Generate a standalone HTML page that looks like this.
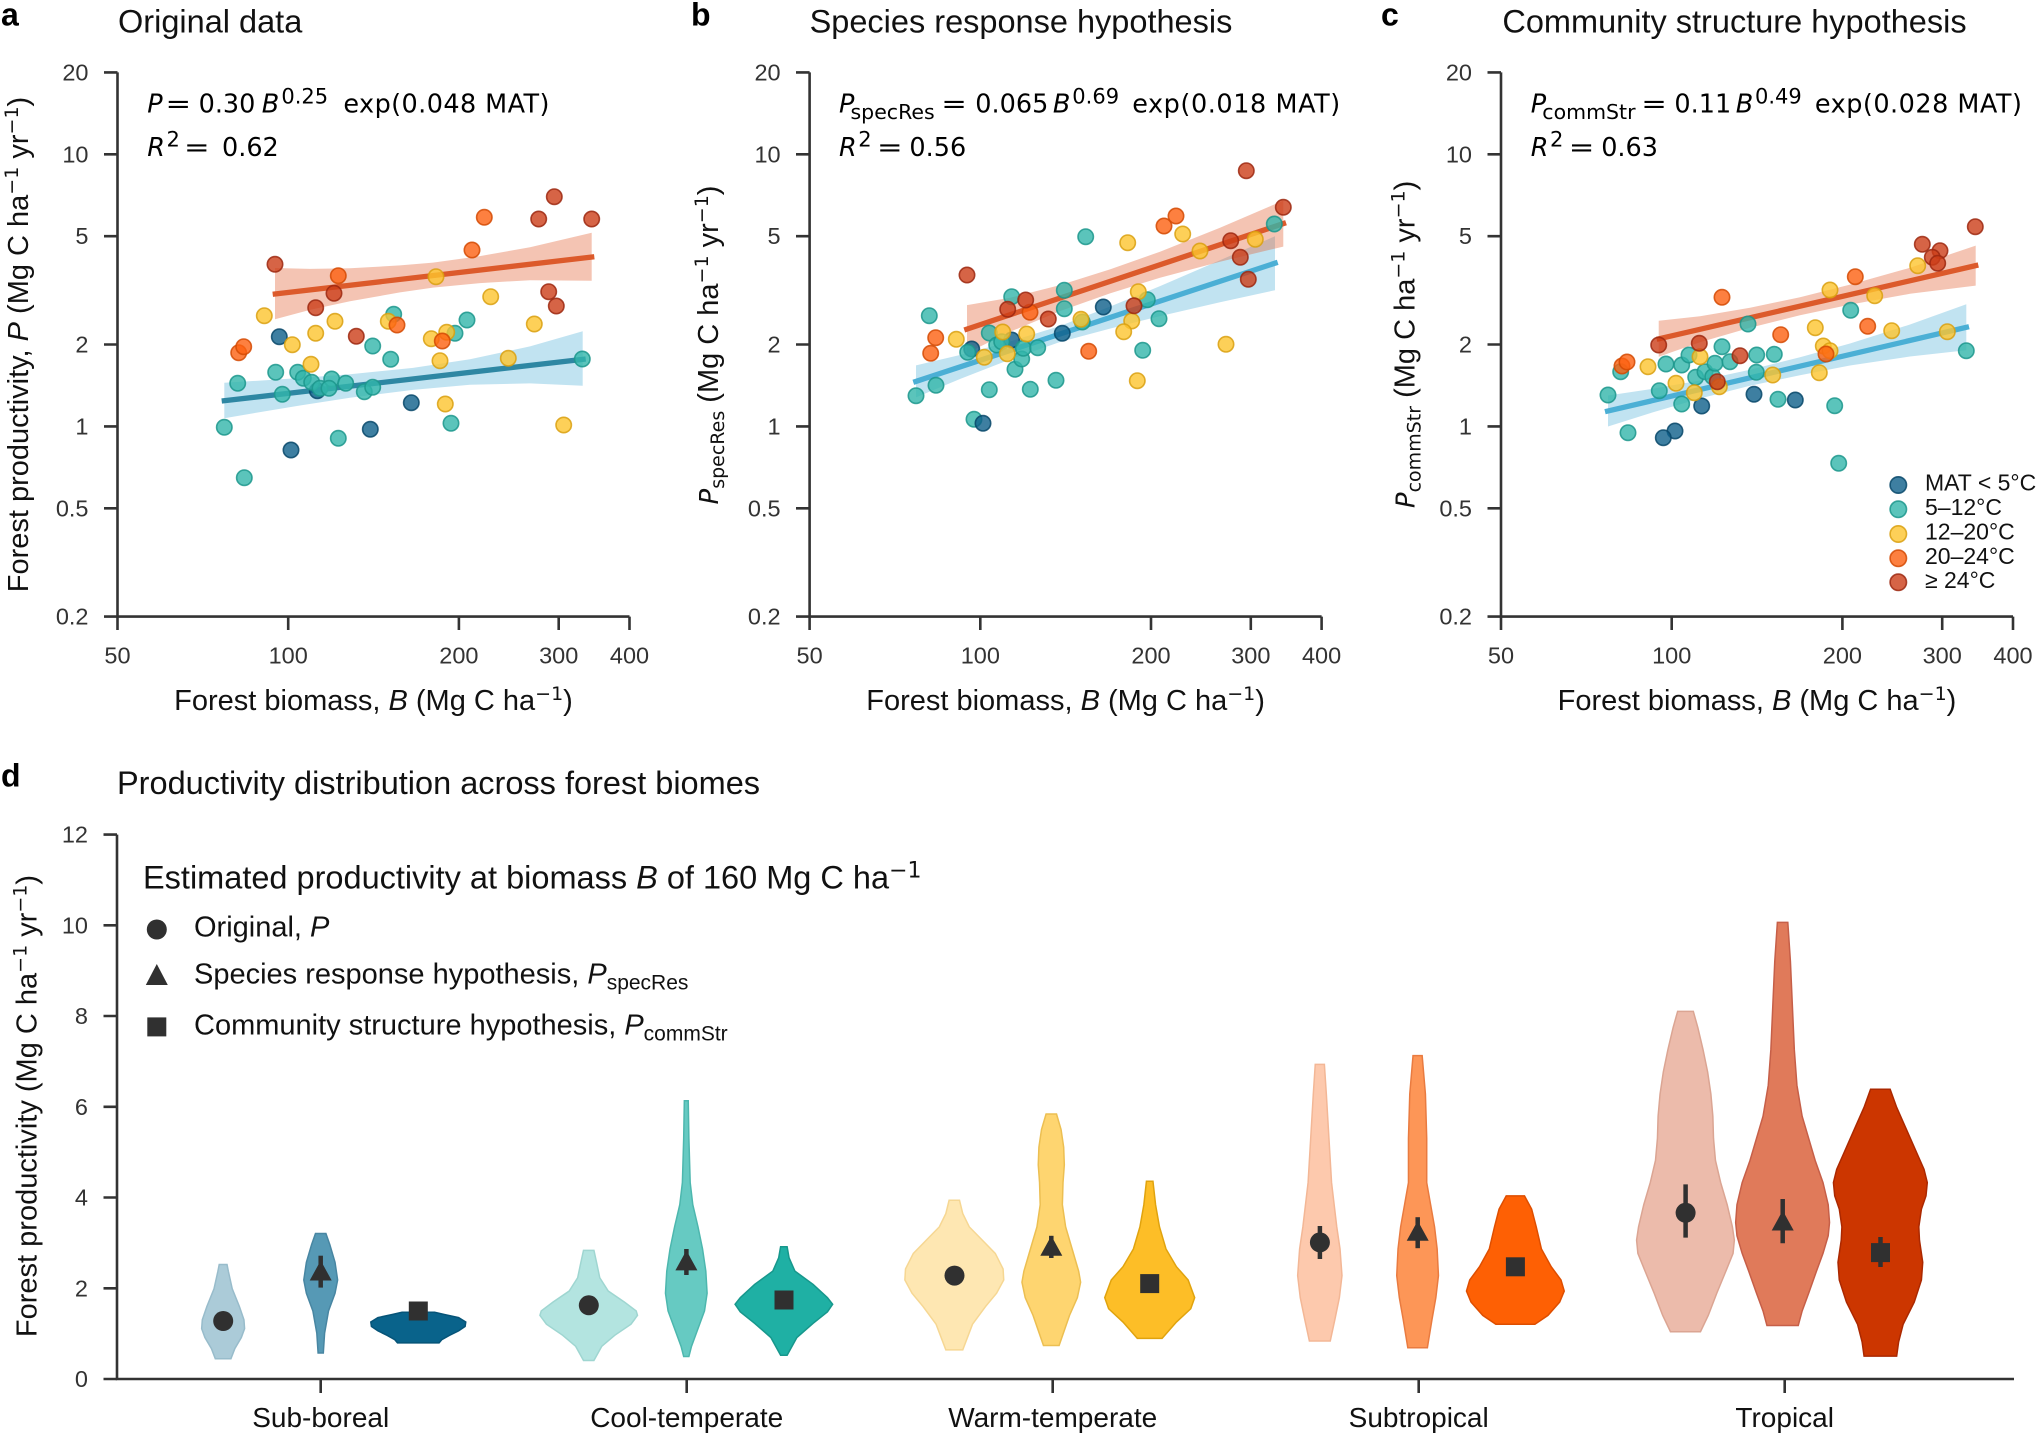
<!DOCTYPE html>
<html><head><meta charset="utf-8">
<style>
html,body{margin:0;padding:0;background:#fff;}
svg{display:block;font-family:"Liberation Sans",Arial,sans-serif;}
.tk{fill:#333;font-size:23.5px;}
.ax{stroke:#333;stroke-width:2.6;fill:none;}
.k0{fill:#0e5f89;stroke:#08486a;}
.k1{fill:#32b5aa;stroke:#1c978c;}
.k2{fill:#fcc42e;stroke:#d9a010;}
.k3{fill:#fc6010;stroke:#d44a04;}
.k4{fill:#cc3d18;stroke:#9c2810;}
.pts circle{fill-opacity:.8;stroke-opacity:.85;stroke-width:1.6;}
.vi path{stroke-width:1.5;}
.mt{font-family:"DejaVu Sans",sans-serif;}
</style></head>
<body>
<svg width="2042" height="1434" viewBox="0 0 2042 1434" xmlns="http://www.w3.org/2000/svg">
<rect width="2042" height="1434" fill="#fff"/>

<!-- Panel letters and titles -->
<g font-weight="bold" font-size="32" fill="#000">
<text x="1" y="25.3">a</text>
<text x="691" y="25.3">b</text>
<text x="1381" y="25.3">c</text>
<text x="1" y="786.5">d</text>
</g>
<g font-size="32.5" fill="#111">
<text x="118" y="32.5">Original data</text>
<text x="809.6" y="32.5">Species response hypothesis</text>
<text x="1502.4" y="32.5">Community structure hypothesis</text>
<text x="117" y="794">Productivity distribution across forest biomes</text>
</g>

<!-- ===== Panel A ===== -->
<polygon fill="#58b4d8" fill-opacity="0.37" points="224.3,382.7 260,380.6 300,378 350,374.2 413,367.9 470,359.3 530,346.4 582.7,331.3 582.7,385.7 530,383.4 470,384.8 413,389.9 350,397.7 300,405.5 260,412.1 224.3,418.3"/>
<polygon fill="#e06030" fill-opacity="0.37" points="275,268 310,268.9 350,268.3 400,265.4 433,262.6 480,256.1 530,247.2 591.7,232.7 591.7,280.7 530,280.2 480,283.1 433,287.6 400,292.4 350,301.3 310,309.9 275,319.3"/>
<line x1="221.7" y1="401" x2="585.7" y2="359" stroke="#2e87a3" stroke-width="5.3"/>
<line x1="272.7" y1="294.3" x2="594.3" y2="256.7" stroke="#dc5a2b" stroke-width="5.3"/>
<g class="pts">
<g class="k0"><circle cx="279.3" cy="336.7" r="7.7"/><circle cx="317.3" cy="390.7" r="7.7"/><circle cx="291" cy="450" r="7.7"/><circle cx="370.3" cy="429.3" r="7.7"/><circle cx="411.3" cy="402.7" r="7.7"/></g>
<g class="k1"><circle cx="224.3" cy="427.3" r="7.7"/><circle cx="237.7" cy="383.3" r="7.7"/><circle cx="244.3" cy="477.7" r="7.7"/><circle cx="275.7" cy="372.3" r="7.7"/><circle cx="282.3" cy="394.3" r="7.7"/><circle cx="297.7" cy="372.3" r="7.7"/><circle cx="303.3" cy="378.3" r="7.7"/><circle cx="311.7" cy="382.3" r="7.7"/><circle cx="320" cy="388.3" r="7.7"/><circle cx="331.7" cy="379" r="7.7"/><circle cx="329" cy="388.3" r="7.7"/><circle cx="345.7" cy="383.3" r="7.7"/><circle cx="364.3" cy="391.7" r="7.7"/><circle cx="372.7" cy="387.3" r="7.7"/><circle cx="372.7" cy="346" r="7.7"/><circle cx="390.7" cy="359.3" r="7.7"/><circle cx="393.7" cy="314.3" r="7.7"/><circle cx="455" cy="333.3" r="7.7"/><circle cx="467" cy="320" r="7.7"/><circle cx="451" cy="423.3" r="7.7"/><circle cx="582.3" cy="359" r="7.7"/><circle cx="338.3" cy="438.3" r="7.7"/></g>
<g class="k2"><circle cx="264.3" cy="315.7" r="7.7"/><circle cx="292.3" cy="344.7" r="7.7"/><circle cx="315.7" cy="333.3" r="7.7"/><circle cx="335" cy="321.3" r="7.7"/><circle cx="311" cy="364.3" r="7.7"/><circle cx="388.3" cy="321.3" r="7.7"/><circle cx="436" cy="276.7" r="7.7"/><circle cx="490.7" cy="296.7" r="7.7"/><circle cx="431.3" cy="338.7" r="7.7"/><circle cx="446.7" cy="332.3" r="7.7"/><circle cx="440" cy="360.7" r="7.7"/><circle cx="445.3" cy="404" r="7.7"/><circle cx="508.3" cy="358.3" r="7.7"/><circle cx="534.3" cy="324" r="7.7"/><circle cx="563.7" cy="425" r="7.7"/></g>
<g class="k3"><circle cx="238.7" cy="352.7" r="7.7"/><circle cx="243.7" cy="346.7" r="7.7"/><circle cx="338.3" cy="275.7" r="7.7"/><circle cx="397" cy="325" r="7.7"/><circle cx="472" cy="250" r="7.7"/><circle cx="484.3" cy="217.3" r="7.7"/><circle cx="442.3" cy="341" r="7.7"/></g>
<g class="k4"><circle cx="275" cy="264.3" r="7.7"/><circle cx="315.7" cy="307.7" r="7.7"/><circle cx="334" cy="293.3" r="7.7"/><circle cx="356.3" cy="336.3" r="7.7"/><circle cx="554.3" cy="196.7" r="7.7"/><circle cx="538.7" cy="219" r="7.7"/><circle cx="591.7" cy="219" r="7.7"/><circle cx="548.7" cy="291.7" r="7.7"/><circle cx="556.3" cy="306" r="7.7"/></g>
</g>

<!-- ===== Panel B ===== -->
<polygon fill="#58b4d8" fill-opacity="0.37" points="916,365.4 960,355 1010,341.5 1060,326 1110,306.6 1160,286.1 1220,260.3 1275,236.2 1275,290.2 1220,302.3 1160,316.1 1110,328.6 1060,342 1010,359.5 960,379 916,397.4"/>
<polygon fill="#e06030" fill-opacity="0.37" points="967,305.1 1010,297.8 1060,285.1 1110,269.4 1160,251.7 1220,227.7 1283.3,200.6 1283.3,246.6 1220,261.7 1160,277.7 1110,293.4 1060,311.1 1010,331.8 967,353.1"/>
<line x1="913.3" y1="382.3" x2="1277.7" y2="262.3" stroke="#4bafd5" stroke-width="5.3"/>
<line x1="964.3" y1="330" x2="1286" y2="222.7" stroke="#dc5a2b" stroke-width="5.3"/>
<g class="pts">
<g class="k0"><circle cx="1062.3" cy="333.3" r="7.7"/><circle cx="1103.3" cy="307" r="7.7"/><circle cx="1011.7" cy="340" r="7.7"/><circle cx="971.7" cy="349" r="7.7"/></g>
<g class="k1"><circle cx="916" cy="395.7" r="7.7"/><circle cx="936" cy="385.3" r="7.7"/><circle cx="929.3" cy="315.7" r="7.7"/><circle cx="967.7" cy="352.3" r="7.7"/><circle cx="989.3" cy="333" r="7.7"/><circle cx="996.7" cy="345" r="7.7"/><circle cx="1011.7" cy="296.7" r="7.7"/><circle cx="1015" cy="369.3" r="7.7"/><circle cx="1021.7" cy="359" r="7.7"/><circle cx="1023.3" cy="348.3" r="7.7"/><circle cx="1037.7" cy="347.7" r="7.7"/><circle cx="989.3" cy="389.7" r="7.7"/><circle cx="1030.3" cy="389.3" r="7.7"/><circle cx="1056" cy="380.3" r="7.7"/><circle cx="1064.3" cy="290.3" r="7.7"/><circle cx="1064.3" cy="308.7" r="7.7"/><circle cx="1082.3" cy="322" r="7.7"/><circle cx="1085.7" cy="236.7" r="7.7"/><circle cx="1142.7" cy="350.3" r="7.7"/><circle cx="1147.3" cy="299.7" r="7.7"/><circle cx="1159" cy="318.7" r="7.7"/><circle cx="1274.3" cy="224" r="7.7"/><circle cx="974" cy="419.3" r="7.7"/><circle cx="1001.7" cy="341.7" r="7.7"/></g>
<g class="k0"><circle cx="983" cy="423.3" r="7.7"/></g>
<g class="k2"><circle cx="956.3" cy="339.3" r="7.7"/><circle cx="984.3" cy="357.3" r="7.7"/><circle cx="1002.7" cy="332" r="7.7"/><circle cx="1007.3" cy="353.7" r="7.7"/><circle cx="1026.7" cy="334" r="7.7"/><circle cx="1081" cy="319.3" r="7.7"/><circle cx="1127.7" cy="242.7" r="7.7"/><circle cx="1138.3" cy="291.7" r="7.7"/><circle cx="1131.7" cy="321" r="7.7"/><circle cx="1123.7" cy="331.7" r="7.7"/><circle cx="1137.3" cy="380.7" r="7.7"/><circle cx="1182.7" cy="234" r="7.7"/><circle cx="1200" cy="251" r="7.7"/><circle cx="1226" cy="344.3" r="7.7"/><circle cx="1255.3" cy="239.3" r="7.7"/></g>
<g class="k3"><circle cx="935.7" cy="337.7" r="7.7"/><circle cx="930.7" cy="353.3" r="7.7"/><circle cx="1030" cy="312.3" r="7.7"/><circle cx="1088.7" cy="351.3" r="7.7"/><circle cx="1164" cy="226" r="7.7"/><circle cx="1176" cy="216" r="7.7"/></g>
<g class="k4"><circle cx="1246.3" cy="170.7" r="7.7"/><circle cx="1283.3" cy="207.3" r="7.7"/><circle cx="1230.7" cy="240.7" r="7.7"/><circle cx="1240.3" cy="257.3" r="7.7"/><circle cx="1248.3" cy="279.3" r="7.7"/><circle cx="967" cy="275" r="7.7"/><circle cx="1025.7" cy="300" r="7.7"/><circle cx="1007.7" cy="309.3" r="7.7"/><circle cx="1048.3" cy="319" r="7.7"/><circle cx="1134" cy="305.7" r="7.7"/></g>
</g>

<!-- ===== Panel C ===== -->
<polygon fill="#58b4d8" fill-opacity="0.37" points="1608,395.5 1650,389.2 1700,380.5 1750,369.8 1800,357.2 1850,343.5 1910,324.5 1966.3,304.3 1966.3,350.3 1910,356.5 1850,365.5 1800,375.2 1750,385.8 1700,398.5 1650,413.2 1608,426.5"/>
<polygon fill="#e06030" fill-opacity="0.37" points="1658.7,320.8 1700,316.3 1750,307.7 1800,297.2 1850,284.6 1910,267.8 1975.7,245.6 1975.7,285.6 1910,293.8 1850,304.6 1800,315.2 1750,327.7 1700,342.3 1658.7,356.8"/>
<line x1="1605" y1="411.7" x2="1969" y2="326.7" stroke="#4bafd5" stroke-width="5.3"/>
<line x1="1656.7" y1="339.3" x2="1978.3" y2="265" stroke="#dc5a2b" stroke-width="5.3"/>
<g class="pts">
<g class="k0"><circle cx="1701.7" cy="406" r="7.7"/><circle cx="1675" cy="431" r="7.7"/><circle cx="1663.3" cy="437.7" r="7.7"/><circle cx="1754" cy="394.3" r="7.7"/><circle cx="1795.3" cy="400" r="7.7"/></g>
<g class="k1"><circle cx="1608" cy="395" r="7.7"/><circle cx="1620.7" cy="371.7" r="7.7"/><circle cx="1628" cy="432.7" r="7.7"/><circle cx="1659.3" cy="390.7" r="7.7"/><circle cx="1666" cy="364" r="7.7"/><circle cx="1681.7" cy="365" r="7.7"/><circle cx="1681.7" cy="404" r="7.7"/><circle cx="1689" cy="355" r="7.7"/><circle cx="1695.7" cy="377.3" r="7.7"/><circle cx="1705" cy="371.7" r="7.7"/><circle cx="1712.7" cy="376.7" r="7.7"/><circle cx="1715" cy="363.3" r="7.7"/><circle cx="1722" cy="346.7" r="7.7"/><circle cx="1730" cy="361.7" r="7.7"/><circle cx="1748" cy="324" r="7.7"/><circle cx="1756.3" cy="372.3" r="7.7"/><circle cx="1756.7" cy="355" r="7.7"/><circle cx="1774.3" cy="354.3" r="7.7"/><circle cx="1778" cy="399.3" r="7.7"/><circle cx="1850.7" cy="310.3" r="7.7"/><circle cx="1834.7" cy="405.7" r="7.7"/><circle cx="1838.7" cy="463.3" r="7.7"/><circle cx="1966.3" cy="350.7" r="7.7"/></g>
<g class="k2"><circle cx="1648" cy="366.7" r="7.7"/><circle cx="1676" cy="383.3" r="7.7"/><circle cx="1694.3" cy="392.7" r="7.7"/><circle cx="1700" cy="356.7" r="7.7"/><circle cx="1719.3" cy="386.7" r="7.7"/><circle cx="1772.7" cy="375" r="7.7"/><circle cx="1815.3" cy="327.7" r="7.7"/><circle cx="1823.3" cy="346" r="7.7"/><circle cx="1830" cy="350.7" r="7.7"/><circle cx="1819.3" cy="372.7" r="7.7"/><circle cx="1830" cy="290" r="7.7"/><circle cx="1874.7" cy="295.7" r="7.7"/><circle cx="1891.7" cy="330.7" r="7.7"/><circle cx="1917.7" cy="265.7" r="7.7"/><circle cx="1947.3" cy="331.7" r="7.7"/></g>
<g class="k3"><circle cx="1622" cy="366" r="7.7"/><circle cx="1627" cy="362" r="7.7"/><circle cx="1722" cy="297.3" r="7.7"/><circle cx="1780.7" cy="334.7" r="7.7"/><circle cx="1855.3" cy="276.7" r="7.7"/><circle cx="1867.7" cy="326.3" r="7.7"/><circle cx="1826" cy="354" r="7.7"/></g>
<g class="k4"><circle cx="1975.3" cy="226.7" r="7.7"/><circle cx="1922.3" cy="244.3" r="7.7"/><circle cx="1940" cy="250.7" r="7.7"/><circle cx="1932.3" cy="257.3" r="7.7"/><circle cx="1937.7" cy="263.3" r="7.7"/><circle cx="1658.7" cy="345" r="7.7"/><circle cx="1699.3" cy="343.3" r="7.7"/><circle cx="1740" cy="355.7" r="7.7"/><circle cx="1717.3" cy="381.7" r="7.7"/></g>
</g>
<!-- legend c -->
<g class="pts">
<circle class="k0" cx="1898.3" cy="485" r="8.2"/>
<circle class="k1" cx="1898.3" cy="509.3" r="8.2"/>
<circle class="k2" cx="1898.3" cy="534" r="8.2"/>
<circle class="k3" cx="1898.3" cy="558.3" r="8.2"/>
<circle class="k4" cx="1898.3" cy="582.3" r="8.2"/>
</g>
<g font-size="23" fill="#111">
<text x="1925" y="490.5">MAT &lt; 5°C</text>
<text x="1925" y="514.8">5–12°C</text>
<text x="1925" y="539.5">12–20°C</text>
<text x="1925" y="563.8">20–24°C</text>
<text x="1925" y="587.8">≥ 24°C</text>
</g>

<!-- ===== Axes panels a-c ===== -->
<g class="ax">
<path d="M117.5,72.4 V616.6 H629.5"/>
<path d="M104,72.4H117.5 M104,154.3H117.5 M104,236.2H117.5 M104,344.5H117.5 M104,426.4H117.5 M104,508.3H117.5 M104,616.6H117.5"/>
<path d="M117.5,616.6V630 M288.2,616.6V630 M458.9,616.6V630 M558.7,616.6V630 M629.5,616.6V630"/>
<path d="M809.6,72.4 V616.6 H1321.6"/>
<path d="M796,72.4H809.6 M796,154.3H809.6 M796,236.2H809.6 M796,344.5H809.6 M796,426.4H809.6 M796,508.3H809.6 M796,616.6H809.6"/>
<path d="M809.6,616.6V630 M980.3,616.6V630 M1151,616.6V630 M1250.8,616.6V630 M1321.6,616.6V630"/>
<path d="M1501,72.4 V616.6 H2013"/>
<path d="M1487.5,72.4H1501 M1487.5,154.3H1501 M1487.5,236.2H1501 M1487.5,344.5H1501 M1487.5,426.4H1501 M1487.5,508.3H1501 M1487.5,616.6H1501"/>
<path d="M1501,616.6V630 M1671.7,616.6V630 M1842.4,616.6V630 M1942.2,616.6V630 M2013,616.6V630"/>
</g>
<g class="tk" text-anchor="end">
<text x="88.5" y="80.4">20</text><text x="88.5" y="162.3">10</text><text x="88.5" y="244.2">5</text><text x="88.5" y="352.5">2</text><text x="88.5" y="434.4">1</text><text x="88.5" y="516.3">0.5</text><text x="88.5" y="624.6">0.2</text>
<text x="780.6" y="80.4">20</text><text x="780.6" y="162.3">10</text><text x="780.6" y="244.2">5</text><text x="780.6" y="352.5">2</text><text x="780.6" y="434.4">1</text><text x="780.6" y="516.3">0.5</text><text x="780.6" y="624.6">0.2</text>
<text x="1472" y="80.4">20</text><text x="1472" y="162.3">10</text><text x="1472" y="244.2">5</text><text x="1472" y="352.5">2</text><text x="1472" y="434.4">1</text><text x="1472" y="516.3">0.5</text><text x="1472" y="624.6">0.2</text>
</g>
<g class="tk" text-anchor="middle">
<text x="117.5" y="663.5">50</text><text x="288.2" y="663.5">100</text><text x="458.9" y="663.5">200</text><text x="558.7" y="663.5">300</text><text x="629.5" y="663.5">400</text>
<text x="809.6" y="663.5">50</text><text x="980.3" y="663.5">100</text><text x="1151" y="663.5">200</text><text x="1250.8" y="663.5">300</text><text x="1321.6" y="663.5">400</text>
<text x="1501" y="663.5">50</text><text x="1671.7" y="663.5">100</text><text x="1842.4" y="663.5">200</text><text x="1942.2" y="663.5">300</text><text x="2013" y="663.5">400</text>
</g>

<!-- axis labels -->
<g font-size="29" fill="#111" text-anchor="middle">
<text x="373.5" y="710">Forest biomass, <tspan font-style="italic">B</tspan> (Mg C ha<tspan dy="-10" font-size="19" class="mt">−1</tspan><tspan dy="10">)</tspan></text>
<text x="1065.6" y="710">Forest biomass, <tspan font-style="italic">B</tspan> (Mg C ha<tspan dy="-10" font-size="19" class="mt">−1</tspan><tspan dy="10">)</tspan></text>
<text x="1757" y="710">Forest biomass, <tspan font-style="italic">B</tspan> (Mg C ha<tspan dy="-10" font-size="19" class="mt">−1</tspan><tspan dy="10">)</tspan></text>
<text transform="translate(28,344.5) rotate(-90)">Forest productivity, <tspan font-style="italic">P</tspan> (Mg C ha<tspan dy="-10" font-size="19" class="mt">−1</tspan><tspan dy="10"> yr</tspan><tspan dy="-10" font-size="19" class="mt">−1</tspan><tspan dy="10">)</tspan></text>
<text transform="translate(718,345) rotate(-90)"><tspan font-style="italic" class="mt" font-size="26">P</tspan><tspan dy="6" font-size="19" class="mt">specRes</tspan><tspan dy="-6"> (Mg C ha</tspan><tspan dy="-10" font-size="19" class="mt">−1</tspan><tspan dy="10"> yr</tspan><tspan dy="-10" font-size="19" class="mt">−1</tspan><tspan dy="10">)</tspan></text>
<text transform="translate(1414.5,344.4) rotate(-90)"><tspan font-style="italic" class="mt" font-size="26">P</tspan><tspan dy="6" font-size="19" class="mt">commStr</tspan><tspan dy="-6"> (Mg C ha</tspan><tspan dy="-10" font-size="19" class="mt">−1</tspan><tspan dy="10"> yr</tspan><tspan dy="-10" font-size="19" class="mt">−1</tspan><tspan dy="10">)</tspan></text>
</g>

<!-- formulas (mathtext-like, DejaVu) -->
<g class="mt" font-size="25.5" fill="#000">
<text x="147.3" y="112.5" font-style="italic">P</text>
<text transform="translate(165.5,112.5) scale(1.2,1)">=</text>
<text x="198.6" y="112.5">0.30</text>
<text x="261.7" y="112.5" font-style="italic">B</text>
<text x="281.4" y="103.5" font-size="21">0.25</text>
<text x="343.4" y="112.5" textLength="206" lengthAdjust="spacing">exp(0.048 MAT)</text>
<text x="147.3" y="156" font-style="italic">R</text>
<text x="166.5" y="146.5" font-size="21">2</text>
<text transform="translate(184,156) scale(1.2,1)">=</text>
<text x="222" y="156">0.62</text>

<text x="839" y="112.5" font-style="italic">P</text>
<text x="850.5" y="119" font-size="20.5">specRes</text>
<text transform="translate(941.3,112.5) scale(1.2,1)">=</text>
<text x="975.3" y="112.5">0.065</text>
<text x="1052.9" y="112.5" font-style="italic">B</text>
<text x="1072.3" y="103.5" font-size="21">0.69</text>
<text x="1132.2" y="112.5" textLength="208" lengthAdjust="spacing">exp(0.018 MAT)</text>
<text x="839" y="156" font-style="italic">R</text>
<text x="858.2" y="146.5" font-size="21">2</text>
<text transform="translate(877,156) scale(1.2,1)">=</text>
<text x="909.4" y="156">0.56</text>

<text x="1530.8" y="112.5" font-style="italic">P</text>
<text x="1542.3" y="119" font-size="20.5">commStr</text>
<text transform="translate(1641.3,112.5) scale(1.2,1)">=</text>
<text x="1674.4" y="112.5">0.11</text>
<text x="1735.8" y="112.5" font-style="italic">B</text>
<text x="1755" y="103.5" font-size="21">0.49</text>
<text x="1814.9" y="112.5" textLength="207" lengthAdjust="spacing">exp(0.028 MAT)</text>
<text x="1530.8" y="156" font-style="italic">R</text>
<text x="1550" y="146.5" font-size="21">2</text>
<text transform="translate(1568.8,156) scale(1.2,1)">=</text>
<text x="1601.2" y="156">0.63</text>
</g>

<!-- ===== Panel D ===== -->
<g class="vi" transform="translate(0,740) scale(0.650510,0.442602)">
<path fill="#abcbd8" stroke="#98bccb" vector-effect="non-scaling-stroke" d="M349,1185 L351,1200 L357,1240 L368,1280 L375,1310 L376,1330 L371,1350 L361,1375 L355,1398 L331,1398 L325,1375 L315,1350 L310,1330 L311,1310 L318,1280 L329,1240 L335,1200 L337,1185 Z"/>
<path fill="#5699b5" stroke="#4886a2" vector-effect="non-scaling-stroke" d="M501,1115 L507,1140 L515,1180 L519,1220 L515,1250 L505,1290 L499,1340 L497,1385 L489,1385 L487,1340 L481,1290 L471,1250 L467,1220 L471,1180 L479,1140 L485,1115 Z"/>
<path fill="#09638b" stroke="#065478" vector-effect="non-scaling-stroke" d="M668,1293 L683,1298 L705,1305 L716,1315 L715,1325 L705,1335 L691,1345 L679,1355 L675,1362 L611,1362 L607,1355 L595,1345 L581,1335 L571,1325 L570,1315 L581,1305 L603,1298 L618,1293 Z"/>
<path fill="#b3e4e0" stroke="#9fd6d1" vector-effect="non-scaling-stroke" d="M913,1153 L917,1180 L922,1215 L935,1245 L960,1270 L978,1290 L980,1300 L970,1320 L945,1345 L925,1370 L913,1402 L897,1402 L885,1370 L865,1345 L840,1320 L830,1300 L832,1290 L850,1270 L875,1245 L888,1215 L893,1180 L897,1153 Z"/>
<path fill="#66cac2" stroke="#4db7ae" vector-effect="non-scaling-stroke" d="M1058,815 L1059,900 L1061,1000 L1065,1050 L1073,1100 L1080,1150 L1085,1200 L1087,1250 L1083,1290 L1073,1330 L1063,1370 L1059,1393 L1051,1393 L1047,1370 L1037,1330 L1027,1290 L1023,1250 L1025,1200 L1030,1150 L1037,1100 L1045,1050 L1049,1000 L1051,900 L1052,815 Z"/>
<path fill="#1fb0a4" stroke="#17978c" vector-effect="non-scaling-stroke" d="M1210,1145 L1213,1170 L1222,1200 L1250,1230 L1272,1260 L1280,1275 L1272,1292 L1250,1318 L1225,1350 L1210,1390 L1200,1390 L1185,1350 L1160,1318 L1138,1292 L1130,1275 L1138,1260 L1160,1230 L1188,1200 L1197,1170 L1200,1145 Z"/>
<path fill="#fee7b2" stroke="#f6d793" vector-effect="non-scaling-stroke" d="M1475,1040 L1480,1070 L1490,1100 L1510,1130 L1530,1160 L1542,1195 L1543,1220 L1532,1250 L1515,1280 L1495,1320 L1480,1378 L1454,1378 L1439,1320 L1419,1280 L1402,1250 L1391,1220 L1392,1195 L1404,1160 L1424,1130 L1444,1100 L1454,1070 L1459,1040 Z"/>
</g>
<g class="vi" transform="translate(1020,740) scale(0.651786,0.442602)">
<path fill="#fed570" stroke="#ecbf52" vector-effect="non-scaling-stroke" d="M56,845 L63,880 L67,920 L68,960 L66,1000 L65,1050 L70,1100 L80,1150 L90,1200 L93,1225 L88,1260 L76,1300 L60,1368 L36,1368 L20,1300 L8,1260 L3,1225 L6,1200 L16,1150 L26,1100 L31,1050 L30,1000 L28,960 L29,920 L33,880 L40,845 Z"/>
<path fill="#fdbe27" stroke="#e0a30e" vector-effect="non-scaling-stroke" d="M204,997 L208,1050 L214,1100 L224,1150 L240,1190 L258,1220 L268,1260 L262,1285 L240,1315 L218,1352 L180,1352 L158,1315 L136,1285 L130,1260 L140,1220 L158,1190 L174,1150 L184,1100 L190,1050 L194,997 Z"/>
<path fill="#fdc9ad" stroke="#f3b796" vector-effect="non-scaling-stroke" d="M467,733 L470,800 L474,900 L478,1000 L486,1100 L491,1150 L494,1210 L490,1260 L483,1310 L476,1358 L444,1358 L437,1310 L430,1260 L426,1210 L429,1150 L434,1100 L442,1000 L446,900 L450,800 L453,733 Z"/>
<path fill="#fd9657" stroke="#e97b40" vector-effect="non-scaling-stroke" d="M617,713 L622,800 L624,900 L624,1000 L630,1050 L636,1100 L640,1150 L642,1210 L638,1260 L632,1310 L625,1373 L595,1373 L588,1310 L582,1260 L578,1210 L580,1150 L584,1100 L590,1050 L596,1000 L596,900 L598,800 L603,713 Z"/>
<path fill="#fe6004" stroke="#de4e00" vector-effect="non-scaling-stroke" d="M774,1030 L785,1060 L792,1100 L800,1150 L815,1190 L830,1220 L835,1245 L828,1270 L810,1300 L790,1320 L730,1320 L710,1300 L692,1270 L685,1245 L690,1220 L705,1190 L720,1150 L728,1100 L735,1060 L746,1030 Z"/>
<path fill="#ecbbab" stroke="#dba593" vector-effect="non-scaling-stroke" d="M1033,613 L1040,650 L1048,700 L1055,750 L1060,800 L1063,850 L1064,900 L1067,950 L1075,1000 L1085,1050 L1093,1100 L1096,1130 L1094,1160 L1083,1200 L1069,1250 L1056,1300 L1044,1337 L998,1337 L986,1300 L973,1250 L959,1200 L948,1160 L946,1130 L949,1100 L957,1050 L967,1000 L975,950 L978,900 L979,850 L982,800 L987,750 L994,700 L1002,650 L1009,613 Z"/>
<path fill="#e07a5a" stroke="#c65f48" vector-effect="non-scaling-stroke" d="M1178,412 L1182,500 L1185,600 L1188,700 L1192,780 L1200,850 L1210,900 L1220,950 L1232,1000 L1240,1050 L1242,1090 L1240,1120 L1232,1160 L1222,1200 L1210,1250 L1200,1290 L1194,1323 L1146,1323 L1140,1290 L1130,1250 L1118,1200 L1108,1160 L1100,1120 L1098,1090 L1100,1050 L1108,1000 L1120,950 L1130,900 L1140,850 L1148,780 L1152,700 L1155,600 L1158,500 L1162,412 Z"/>
<path fill="#cc3600" stroke="#ab2800" vector-effect="non-scaling-stroke" d="M1335,789 L1345,830 L1360,880 L1375,930 L1387,970 L1392,1000 L1390,1030 L1383,1060 L1379,1100 L1380,1130 L1385,1180 L1383,1220 L1372,1270 L1355,1320 L1348,1360 L1345,1392 L1295,1392 L1292,1360 L1285,1320 L1268,1270 L1257,1220 L1255,1180 L1260,1130 L1261,1100 L1257,1060 L1250,1030 L1248,1000 L1253,970 L1265,930 L1280,880 L1295,830 L1305,789 Z"/>
</g>

<!-- error bars -->
<g stroke="#303030" stroke-width="4.5">
<line x1="320.7" y1="1255.7" x2="320.7" y2="1287.6"/>
<line x1="686.4" y1="1249" x2="686.4" y2="1275"/>
<line x1="1051.3" y1="1235.8" x2="1051.3" y2="1258"/>
<line x1="1319.9" y1="1226" x2="1319.9" y2="1259"/>
<line x1="1417.7" y1="1217.2" x2="1417.7" y2="1248.2"/>
<line x1="1685.6" y1="1184.4" x2="1685.6" y2="1237.6"/>
<line x1="1782.7" y1="1199" x2="1782.7" y2="1243.3"/>
<line x1="1880.5" y1="1237" x2="1880.5" y2="1267"/>
</g>
<!-- markers -->
<g fill="#303030">
<circle cx="223.2" cy="1321" r="10"/><circle cx="588.8" cy="1305.3" r="10"/><circle cx="954.5" cy="1275.6" r="10"/><circle cx="1319.9" cy="1242.4" r="10"/><circle cx="1685.6" cy="1212.8" r="10"/>
<polygon points="320.7,1260.5 309.7,1280.5 331.7,1280.5"/>
<polygon points="686.4,1250.4 675.4,1270.4 697.4,1270.4"/>
<polygon points="1051.3,1235.7 1040.3,1255.7 1062.3,1255.7"/>
<polygon points="1417.7,1220.7 1406.7,1240.7 1428.7,1240.7"/>
<polygon points="1782.7,1210.5 1771.7,1230.5 1793.7,1230.5"/>
<rect x="408.8" y="1301.5" width="19" height="19"/>
<rect x="774.5" y="1290.5" width="19" height="19"/>
<rect x="1140.2" y="1274.1" width="19" height="19"/>
<rect x="1505.9" y="1257.3" width="19" height="19"/>
<rect x="1871" y="1243.1" width="19" height="19"/>
<!-- legend markers -->
<circle cx="156.8" cy="929.5" r="10"/>
<polygon points="156.8,964 145.8,985 167.8,985"/>
<rect x="147.3" y="1017.4" width="19" height="19"/>
</g>

<!-- axes d -->
<g class="ax">
<path d="M117,834.6 V1379 H2014"/>
<path d="M103.5,834.6H117 M103.5,925.3H117 M103.5,1016H117 M103.5,1106.8H117 M103.5,1197.5H117 M103.5,1288.3H117 M103.5,1379H117"/>
<path d="M320.7,1379V1393 M686.7,1379V1393 M1052.7,1379V1393 M1418.7,1379V1393 M1784.7,1379V1393"/>
</g>
<g class="tk" text-anchor="end">
<text x="88" y="842.6">12</text><text x="88" y="933.3">10</text><text x="88" y="1024">8</text><text x="88" y="1114.8">6</text><text x="88" y="1205.5">4</text><text x="88" y="1296.3">2</text><text x="88" y="1387">0</text>
</g>
<g font-size="28" fill="#111" text-anchor="middle">
<text x="320.7" y="1427">Sub-boreal</text>
<text x="686.7" y="1427">Cool-temperate</text>
<text x="1052.7" y="1427">Warm-temperate</text>
<text x="1418.7" y="1427">Subtropical</text>
<text x="1784.7" y="1427">Tropical</text>
<text transform="translate(36.5,1106) rotate(-90)" font-size="29">Forest productivity (Mg C ha<tspan dy="-10" font-size="19" class="mt">−1</tspan><tspan dy="10"> yr</tspan><tspan dy="-10" font-size="19" class="mt">−1</tspan><tspan dy="10">)</tspan></text>
</g>
<g fill="#111">
<text x="143" y="888.3" font-size="32.5">Estimated productivity at biomass <tspan font-style="italic">B</tspan> of 160 Mg C ha<tspan dy="-11" font-size="22" class="mt">−1</tspan></text>
<text x="194" y="936.5" font-size="29">Original, <tspan font-style="italic">P</tspan></text>
<text x="194" y="983.5" font-size="29">Species response hypothesis, <tspan font-style="italic">P</tspan><tspan dy="6" font-size="21">specRes</tspan></text>
<text x="194" y="1034.4" font-size="29">Community structure hypothesis, <tspan font-style="italic">P</tspan><tspan dy="6" font-size="21">commStr</tspan></text>
</g>
</svg>
</body></html>
